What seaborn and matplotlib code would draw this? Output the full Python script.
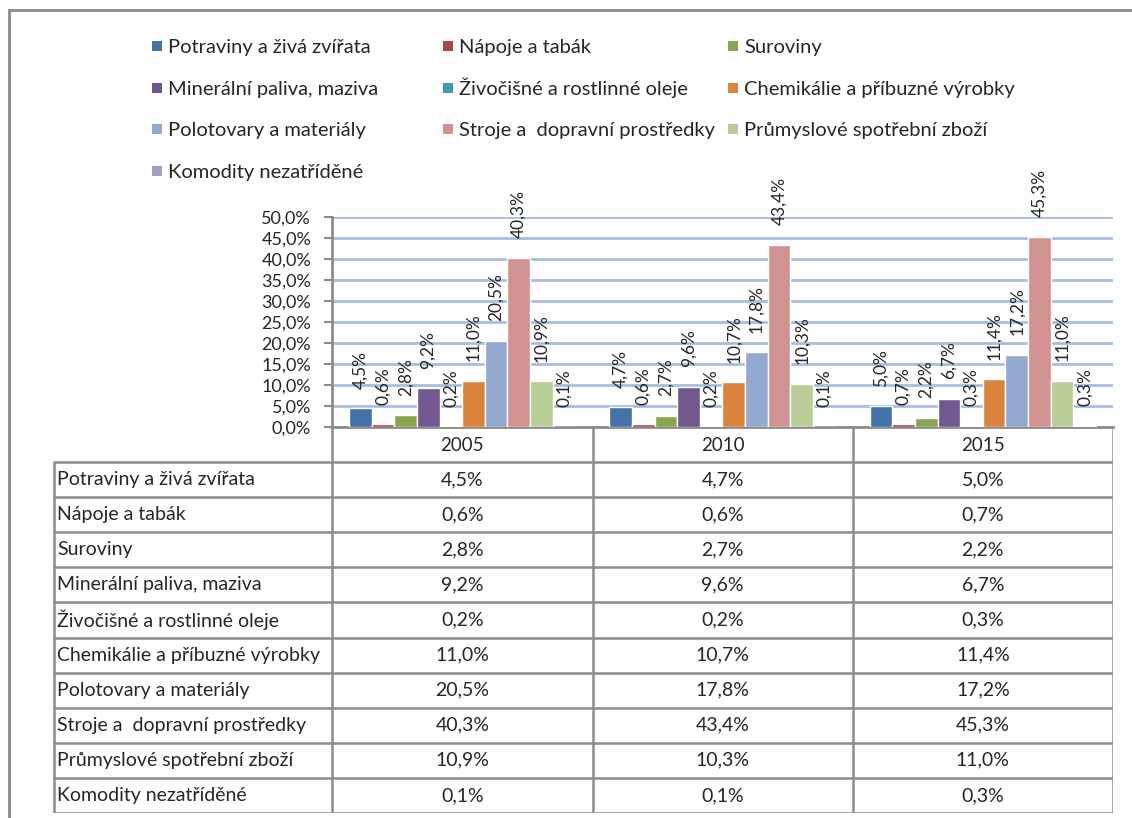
import matplotlib
matplotlib.use("Agg")
import matplotlib.pyplot as plt
from matplotlib.patches import Rectangle
import pandas as pd
import seaborn as sns

# data
years = ["2005", "2010", "2015"]
categories = ["Potraviny a živá zvířata", "Nápoje a tabák", "Suroviny",
              "Minerální paliva, maziva", "Živočišné a rostlinné oleje",
              "Chemikálie a příbuzné výrobky", "Polotovary a materiály",
              "Stroje a  dopravní prostředky", "Průmyslové spotřební zboží",
              "Komodity nezatříděné"]
share_2005 = [4.5, 0.6, 2.8, 9.2, 0.2, 11.0, 20.5, 40.3, 10.9, 0.1]
share_2010 = [4.7, 0.6, 2.7, 9.6, 0.2, 10.7, 17.8, 43.4, 10.3, 0.1]
share_2015 = [5.0, 0.7, 2.2, 6.7, 0.3, 11.4, 17.2, 45.3, 11.0, 0.3]
yticks = [0, 5, 10, 15, 20, 25, 30, 35, 40, 45, 50]

colors = ["#4572A7", "#AA4643", "#89A54E", "#71588F", "#4198AF",
          "#DB843D", "#93A9CF", "#D19392", "#B9CD96", "#A99BBD"]

def pct(v):
    return f"{v:.1f}%".replace(".", ",")

rows = []
for y, vals in zip(years, [share_2005, share_2010, share_2015]):
    for c, v in zip(categories, vals):
        rows.append({"rok": y, "kategorie": c, "podil": v})
df = pd.DataFrame(rows)

sns.set_style("white")
plt.rcParams["font.family"] = ["Lato", "DejaVu Sans"]
plt.rcParams["font.weight"] = "normal"

W, H = 1132, 818
fig = plt.figure(figsize=(W / 100, H / 100), dpi=100)
GRAY = "#8C8C8C"

# outer frame of the chart
fig.add_artist(plt.Line2D([9 / W, 9 / W], [0, 1 - 10 / H], transform=fig.transFigure,
                          color="#8A8A8A", lw=2))
fig.add_artist(plt.Line2D([9 / W, 1], [1 - 10 / H, 1 - 10 / H], transform=fig.transFigure,
                          color="#8A8A8A", lw=2))

# bar chart
ax = fig.add_axes([332 / W, (H - 427) / H, 781 / W, 210 / H])
sns.barplot(data=df, x="rok", y="podil", hue="kategorie", palette=colors,
            width=0.87, saturation=1, legend=False, ax=ax, zorder=3)
ax.set_xlim(-0.5, 2.5)
ax.set_ylim(0, 50)
ax.set_yticks(yticks)
ax.set_yticklabels([pct(t) for t in yticks], fontsize=13)
ax.tick_params(axis="y", length=6, width=1.5, color=GRAY, pad=9, direction="out", left=True)
ax.tick_params(axis="x", length=0, pad=7, labelsize=13.5)
ax.set_xlabel("")
ax.set_ylabel("")
ax.grid(axis="y", color="#A6BDE3", lw=2, zorder=0)
ax.set_axisbelow(True)
for s in ["top", "right"]:
    ax.spines[s].set_visible(False)
for s in ["left", "bottom"]:
    ax.spines[s].set_color(GRAY)
    ax.spines[s].set_linewidth(2)

for cont, vals in zip(ax.containers, zip(share_2005, share_2010, share_2015)):
    ax.bar_label(cont, labels=[pct(v) for v in vals], rotation=90, padding=14,
                 fontsize=12.5, clip_on=False)

# data table below the axis
ax_t = fig.add_axes([53 / W, (H - 813) / H, 1060 / W, 386 / H])
left = -0.5 - 279 / 260
ax_t.set_xlim(left, 2.5)
ax_t.set_ylim(11, 0)
ax_t.axis("off")
ax_t.vlines([-0.5, 0.5, 1.5, 2.5], 0, 11, color=GRAY, lw=1.8)
ax_t.vlines([left + 0.003], 1, 11, color=GRAY, lw=1.8)
ax_t.hlines(range(1, 12), left, 2.5, color=GRAY, lw=1.8)
for i, c in enumerate(categories):
    ax_t.text(left + 0.015, i + 1.5, c, ha="left", va="center", fontsize=14)
    for j, vals in enumerate([share_2005, share_2010, share_2015]):
        ax_t.text(j, i + 1.5, pct(vals[i]), ha="center", va="center", fontsize=14)

# legend: three columns, filled row by row (Excel style)
col_x = [152, 443, 728]
row_y0, row_step = 46, 41.7
for i, (c, col) in enumerate(zip(categories, colors)):
    x = col_x[i % 3]
    y = row_y0 + row_step * (i // 3)
    fig.add_artist(Rectangle((x / W, 1 - (y + 5) / H), 10 / W, 10 / H,
                             transform=fig.transFigure, facecolor=col, edgecolor="none"))
    fig.text((x + 16) / W, 1 - (y + 7) / H, c, ha="left", va="baseline", fontsize=14.5)

fig.savefig("out.png", dpi=100)
